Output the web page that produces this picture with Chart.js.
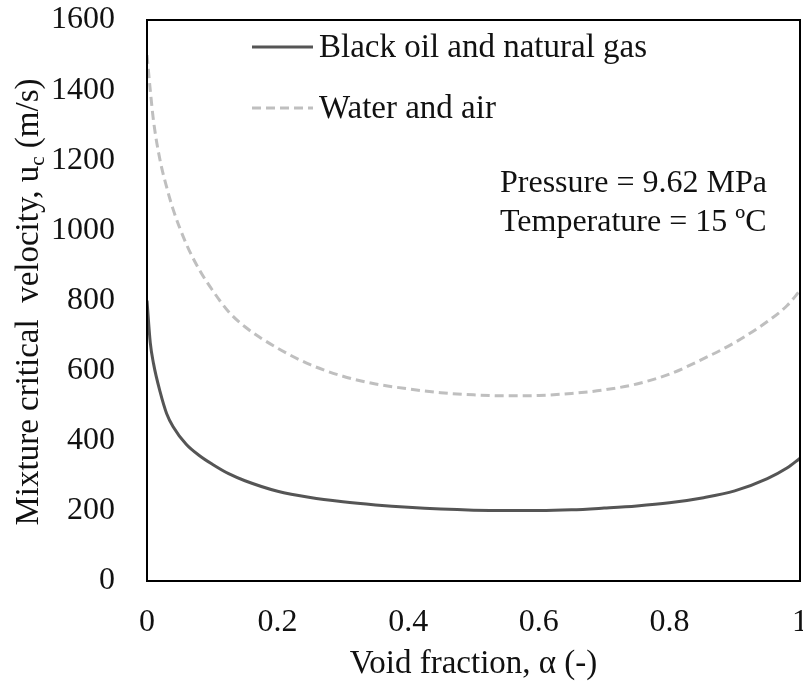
<!DOCTYPE html>
<html>
<head>
<meta charset="utf-8">
<script src="https://cdn.jsdelivr.net/npm/chart.js@4.4.0/dist/chart.umd.min.js"></script>
<style>
  html, body { margin: 0; padding: 0; background: #fff; }
</style>
</head>
<body>
<canvas id="grafico" width="803" height="686"></canvas>
<script>
// Datos
const voidFraction = [0, 0.005, 0.01, 0.02, 0.03, 0.04, 0.06, 0.08, 0.1, 0.125, 0.15, 0.2, 0.25, 0.3, 0.35, 0.4, 0.45, 0.5, 0.55, 0.6, 0.65, 0.7, 0.75, 0.8, 0.85, 0.9, 0.95, 0.98, 1];
const blackOil = [800, 680, 620, 540, 478, 440, 390, 358, 333, 306, 286, 256, 238, 226, 217, 210, 205, 202, 201, 201, 203, 208, 214, 223, 237, 257, 292, 322, 350];
const waterAir = [1500, 1400, 1312, 1200, 1124, 1060, 962, 888, 830, 768, 725, 664, 617, 584, 562, 548, 537, 531, 528, 529, 535, 545, 562, 590, 632, 680, 740, 785, 828];
const xTicks = [0, 0.2, 0.4, 0.6, 0.8, 1];
const yTicks = [0, 200, 400, 600, 800, 1000, 1200, 1400, 1600];
const seriesNames = ["Black oil and natural gas", "Water and air"];
const notes = ["Pressure = 9.62 MPa", "Temperature = 15 ºC"];
const xTitle = "Void fraction, α (-)";
const yTitle = ["Mixture critical  velocity, u", "c", " (m/s)"];

const fuente = "'Liberation Serif', 'Times New Roman', serif";
const colorTexto = "#111";

// Plugin para marco, leyenda, notas y títulos de ejes
const extras = {
  id: "extras",
  afterDraw(chart) {
    const ctx = chart.ctx;
    const a = chart.chartArea;
    ctx.save();
    ctx.strokeStyle = "#000";
    ctx.lineWidth = 2;
    ctx.strokeRect(a.left, a.top, a.right - a.left, a.bottom - a.top);

    // leyenda
    ctx.font = "33px " + fuente;
    ctx.textBaseline = "middle";
    ctx.fillStyle = colorTexto;
    const filas = [47, 108];
    chart.data.datasets.forEach((ds, i) => {
      ctx.strokeStyle = ds.borderColor;
      ctx.lineWidth = ds.borderWidth;
      ctx.setLineDash(ds.borderDash || []);
      ctx.beginPath();
      ctx.moveTo(252, filas[i]);
      ctx.lineTo(313, filas[i]);
      ctx.stroke();
      ctx.setLineDash([]);
      ctx.fillText(ds.label, 319, filas[i] + 1);
    });

    // notas
    ctx.font = "32px " + fuente;
    ctx.fillText(notes[0], 500, 184);
    ctx.fillText(notes[1], 500, 223);

    // título eje x
    ctx.textAlign = "center";
    ctx.font = "33px " + fuente;
    ctx.fillText(xTitle, (a.left + a.right) / 2, 664);

    // título eje y con subíndice
    ctx.translate(29, 302);
    ctx.rotate(-Math.PI / 2);
    ctx.textAlign = "left";
    ctx.font = "33px " + fuente;
    const w0 = ctx.measureText(yTitle[0]).width;
    const w2 = ctx.measureText(yTitle[2]).width;
    ctx.font = "21px " + fuente;
    const w1 = ctx.measureText(yTitle[1]).width;
    let x = -(w0 + w1 + w2) / 2;
    ctx.font = "33px " + fuente;
    ctx.fillText(yTitle[0], x, 0);
    x += w0;
    ctx.font = "21px " + fuente;
    ctx.fillText(yTitle[1], x, 9);
    x += w1;
    ctx.font = "33px " + fuente;
    ctx.fillText(yTitle[2], x, 0);
    ctx.restore();
  }
};

const ctx = document.getElementById("grafico").getContext("2d");

const chart = new Chart(ctx, {
  type: "line",
  data: {
    datasets: [
      {
        label: seriesNames[0],
        data: voidFraction.map((v, i) => ({ x: v, y: blackOil[i] })),
        borderColor: "#555555",
        borderWidth: 3,
        pointRadius: 0,
        cubicInterpolationMode: "monotone",
        fill: false,
      },
      {
        label: seriesNames[1],
        data: voidFraction.map((v, i) => ({ x: v, y: waterAir[i] })),
        borderColor: "#bfbfbf",
        borderWidth: 3,
        borderDash: [9, 5],
        pointRadius: 0,
        cubicInterpolationMode: "monotone",
        fill: false,
      },
    ],
  },
  options: {
    responsive: false,
    animation: false,
    devicePixelRatio: 1,
    layout: { padding: { top: 20, right: 3, left: 0, bottom: 0 } },
    plugins: {
      legend: { display: false },
      tooltip: { enabled: false },
    },
    scales: {
      x: {
        type: "linear",
        min: 0,
        max: 1,
        grid: { display: false },
        border: { display: false },
        afterBuildTicks: (s) => { s.ticks = xTicks.map((v) => ({ value: v })); },
        afterFit: (s) => {
          s.height = 105;
          s.paddingLeft = 0;
          s.paddingRight = 0;
        },
        ticks: {
          color: colorTexto,
          font: { family: fuente, size: 32 },
          padding: 14,
          maxRotation: 0,
          callback: (v) => String(v),
        },
      },
      y: {
        min: 0,
        max: 1600,
        grid: { display: false },
        border: { display: false },
        afterBuildTicks: (s) => { s.ticks = yTicks.map((v) => ({ value: v })); },
        afterFit: (s) => {
          s.width = 147;
          s.paddingTop = 0;
          s.paddingBottom = 0;
        },
        ticks: {
          color: colorTexto,
          font: { family: fuente, size: 32 },
          padding: 24,
          callback: (v) => String(v),
        },
      },
    },
  },
  plugins: [extras],
});
</script>
</body>
</html>
